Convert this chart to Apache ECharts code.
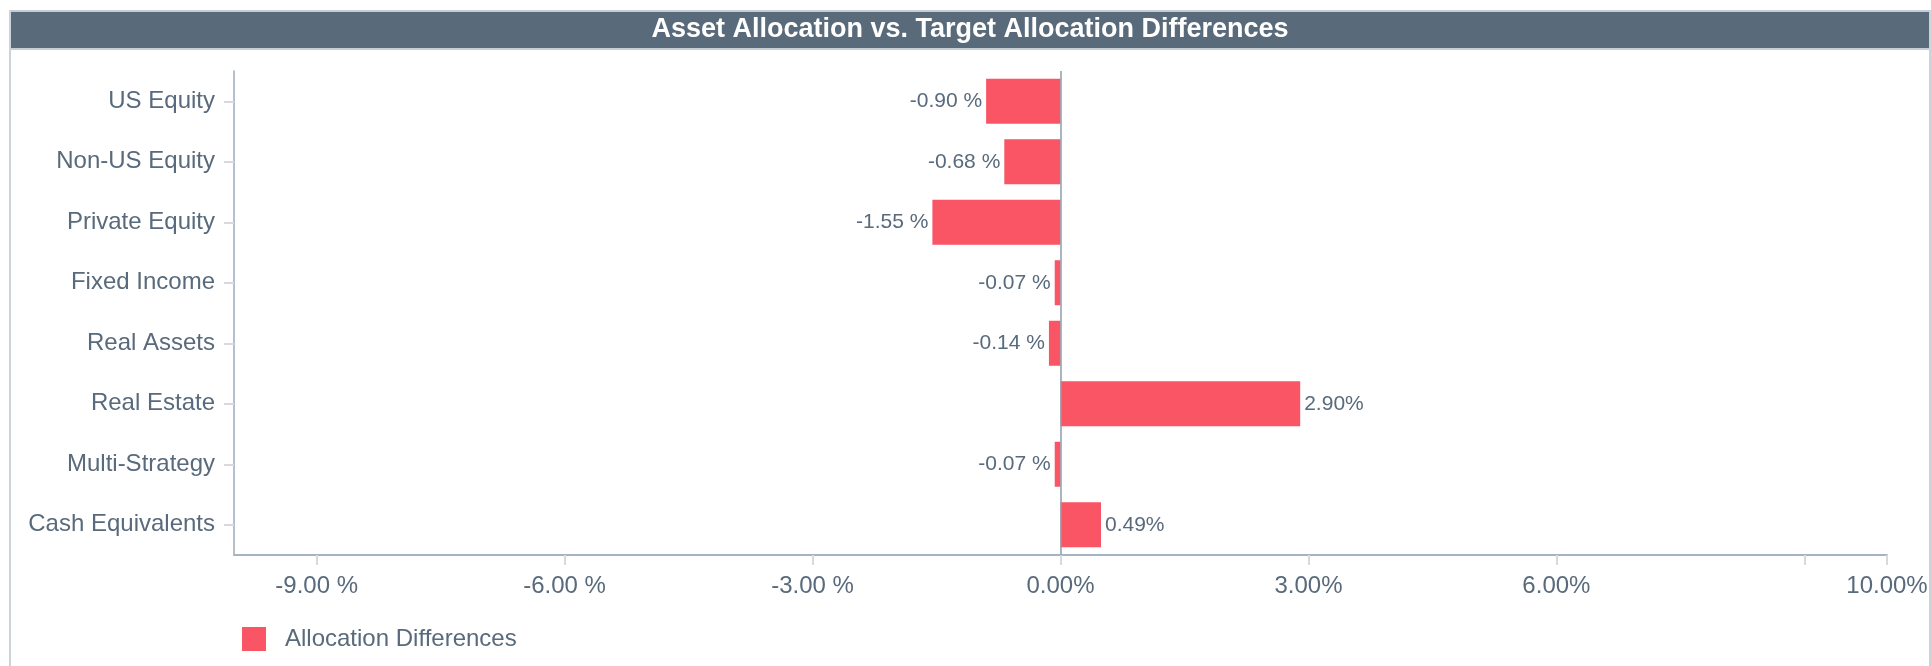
<!DOCTYPE html>
<html>
<head>
<meta charset="utf-8">
<title>Asset Allocation vs. Target Allocation Differences</title>
<script src="https://cdn.jsdelivr.net/npm/echarts@6/dist/echarts.min.js"></script>
<style>
  html, body { margin: 0; padding: 0; background: #fff; }
  #chart { width: 1931px; height: 666px; }
</style>
</head>
<body>
<div id="chart"></div>
<script>
// --- data ---
const categories = ['US Equity', 'Non-US Equity', 'Private Equity', 'Fixed Income', 'Real Assets', 'Real Estate', 'Multi-Strategy', 'Cash Equivalents'];
const diffValues = [-0.90, -0.68, -1.55, -0.07, -0.14, 2.90, -0.07, 0.49];
const tickValues = [-9, -6, -3, 0, 3, 6, 9, 10];
const labelValues = [-9, -6, -3, 0, 3, 6, 10];
const seriesName = 'Allocation Differences';

const textColor = '#586a7b';
const barColor = '#f95564';
const fontFamily = "'Liberation Sans', Arial, sans-serif";

// negatives carry a space before the % sign, positives do not
function pct(v) {
    return v < 0 ? v.toFixed(2) + ' %' : v.toFixed(2) + '%';
}

const chart = echarts.init(document.getElementById('chart'));

chart.setOption({
    animation: false,
    textStyle: { fontFamily: fontFamily },
    title: {
        text: 'Asset Allocation vs. Target Allocation Differences',
        left: 970, top: 16, textAlign: 'center', padding: 0,
        textStyle: { color: '#fff', fontSize: 27, fontWeight: 'bold', fontFamily: fontFamily }
    },
    graphic: [
        { type: 'line', shape: { x1: 10, y1: 10, x2: 10, y2: 666 }, style: { stroke: '#cdd3db', lineWidth: 2 }, z: 0 },
        { type: 'line', shape: { x1: 1930, y1: 10, x2: 1930, y2: 666 }, style: { stroke: '#cdd3db', lineWidth: 2 }, z: 0 },
        { type: 'rect', shape: { x: 10, y: 11, width: 1920, height: 38 }, style: { fill: '#596b7b', stroke: '#c6cdd6', lineWidth: 2 }, z: -1 }
    ],
    legend: {
        left: 242, top: 627, padding: 0,
        itemWidth: 24, itemHeight: 24, icon: 'rect',
        data: [seriesName],
        textStyle: { color: textColor, fontSize: 24, padding: [0, 0, 0, 14] }
    },
    grid: { left: 234, right: 44, top: 71, bottom: 111, containLabel: false, outerBoundsMode: 'none' },
    xAxis: {
        type: 'value', min: -10, max: 10,
        axisLine: { show: true, lineStyle: { color: '#a6b3c2', width: 2 } },
        axisTick: { show: true, length: 10, customValues: tickValues, lineStyle: { color: '#d6d9dd', width: 2 } },
        axisLabel: {
            customValues: labelValues, margin: 19,
            color: textColor, fontSize: 24,
            formatter: v => pct(v)
        },
        splitLine: { show: false }
    },
    yAxis: {
        type: 'category', inverse: true, data: categories,
        axisLine: { show: true, onZero: false, lineStyle: { color: '#9dabbb', width: 1.5 } },
        axisTick: { show: true, alignWithLabel: true, length: 10, lineStyle: { color: '#d6d9dd', width: 2 } },
        axisLabel: { margin: 19, color: textColor, fontSize: 24 }
    },
    series: [{
        name: seriesName,
        type: 'bar',
        barWidth: 45,
        itemStyle: { color: barColor },
        data: diffValues.map(v => ({
            value: v,
            label: { position: v < 0 ? 'left' : 'right' }
        })),
        label: {
            show: true, distance: 4,
            color: textColor, fontSize: 21,
            formatter: p => pct(p.value)
        },
        markLine: {
            silent: true, symbol: 'none',
            label: { show: false },
            lineStyle: { color: '#8f9cad', width: 1.5, type: 'solid' },
            data: [{ xAxis: 0 }]
        }
    }]
});
</script>
</body>
</html>
